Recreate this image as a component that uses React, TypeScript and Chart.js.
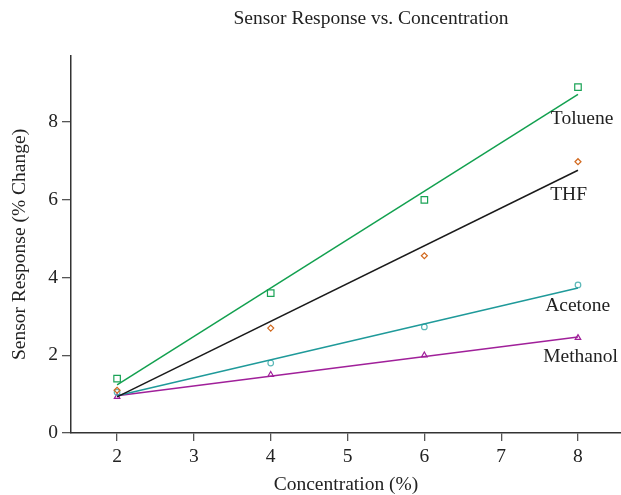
import React, { useEffect, useRef } from 'react';
import { Chart, registerables } from 'chart.js';

Chart.register(...registerables);

const concentrations = [2, 4, 6, 8];
const tolueneValues = [1.4, 3.6, 6.0, 8.9];
const thfValues = [1.1, 2.7, 4.56, 6.98];
const acetoneValues = [1.05, 1.8, 2.73, 3.81];
const methanolValues = [0.93, 1.5, 2.0, 2.45];

const fitX = [2, 8];
const tolueneFit = [1.24, 8.71];
const thfFit = [0.93, 6.76];
const acetoneFit = [0.96, 3.73];
const methanolFit = [0.96, 2.47];

const xTicks = [2, 3, 4, 5, 6, 7, 8];
const yTicks = [0, 2, 4, 6, 8];
const seriesNames = ['Toluene', 'THF', 'Acetone', 'Methanol'];

const FONT = "'Liberation Serif', 'Times New Roman', serif";
const TEXT = '#222222';

const labelAnchors = [
  { x: 7.647, y: 7.956 },
  { x: 7.638, y: 6.0 },
  { x: 7.573, y: 3.146 },
  { x: 7.547, y: 1.834 },
];

const textPlugin = {
  id: 'textPlugin',
  afterDatasetsDraw(chart: any) {
    const { ctx, scales } = chart;
    ctx.save();
    ctx.fillStyle = TEXT;
    ctx.font = `19.5px ${FONT}`;
    ctx.textAlign = 'left';
    ctx.textBaseline = 'alphabetic';
    seriesNames.forEach((name, i) => {
      const a = labelAnchors[i];
      ctx.fillText(name, scales.x.getPixelForValue(a.x), scales.y.getPixelForValue(a.y));
    });
    ctx.textAlign = 'center';
    ctx.fillText('Sensor Response vs. Concentration', 371, 24);
    ctx.restore();
  },
};

function pts(xs: number[], ys: number[]) {
  return xs.map((x, i) => ({ x, y: ys[i] }));
}

export default function App() {
  const ref = useRef<HTMLCanvasElement>(null);
  useEffect(() => {
    if (!ref.current) return;
    const fitDs = (data: number[], color: string) => ({
      type: 'line' as const,
      data: pts(fitX, data),
      borderColor: color,
      borderWidth: 1.5,
      pointRadius: 0,
      showLine: true,
      fill: false,
    });
    const markDs = (data: number[], color: string, style: string, r: number) => ({
      type: 'scatter' as const,
      data: pts(concentrations, data),
      borderColor: color,
      backgroundColor: 'rgba(0,0,0,0)',
      pointStyle: style,
      pointRadius: r,
      pointBorderWidth: 1.2,
      showLine: false,
    });
    const chart = new Chart(ref.current, {
      type: 'scatter',
      data: {
        datasets: [
          fitDs(tolueneFit, '#12a04f'),
          fitDs(thfFit, '#1a1a1a'),
          fitDs(acetoneFit, '#1f9a9a'),
          fitDs(methanolFit, '#a0209a'),
          markDs(tolueneValues, '#1aa356', 'rect', 4.6),
          markDs(thfValues, '#d2691e', 'rectRot', 3),
          markDs(acetoneValues, '#5cb8b8', 'circle', 2.8),
          markDs(methanolValues, '#a0209a', 'triangle', 3.2),
        ] as any,
      },
      options: {
        animation: false,
        responsive: false,
        layout: { autoPadding: false, padding: { top: 56, right: 0, left: 0, bottom: 0 } },
        plugins: { legend: { display: false }, tooltip: { enabled: false }, title: { display: false } },
        scales: {
          x: {
            type: 'linear',
            min: 1.4,
            max: 8.56,
            afterFit: (s: any) => { s.height = 62; s.paddingRight = 0; s.paddingLeft = 0; },
            afterBuildTicks: (s: any) => { s.ticks = xTicks.map((v) => ({ value: v })); },
            grid: { drawOnChartArea: false, drawTicks: true, tickLength: 8, color: '#555', lineWidth: 1.3 },
            border: { display: true, color: '#333', width: 1.5 },
            ticks: { color: TEXT, font: { family: FONT, size: 19.5 }, padding: 4, autoSkip: false, maxRotation: 0 },
            title: { display: true, text: 'Concentration (%)', color: TEXT, font: { family: FONT, size: 19.5, lineHeight: 1 }, padding: { top: 0, bottom: 0 } },
          },
          y: {
            type: 'linear',
            min: 0,
            max: 9.7,
            afterFit: (s: any) => { s.width = 71; s.paddingTop = 0; s.paddingBottom = 0; },
            afterBuildTicks: (s: any) => { s.ticks = yTicks.map((v) => ({ value: v })); },
            grid: { drawOnChartArea: false, drawTicks: true, tickLength: 9, color: '#555', lineWidth: 1.3 },
            border: { display: true, color: '#333', width: 1.5 },
            ticks: { color: TEXT, font: { family: FONT, size: 19.5 }, padding: 4 },
            title: { display: true, text: 'Sensor Response (% Change)', color: TEXT, font: { family: FONT, size: 19.5, lineHeight: 1 }, padding: { top: 10, bottom: 0 } },
          },
        },
      },
      plugins: [textPlugin],
    });
    return () => chart.destroy();
  }, []);
  return (
    <div style={{ position: 'fixed', left: 0, top: 0, width: 621, height: 495, background: '#fff' }}>
      <canvas ref={ref} width={621} height={495} />
    </div>
  );
}
